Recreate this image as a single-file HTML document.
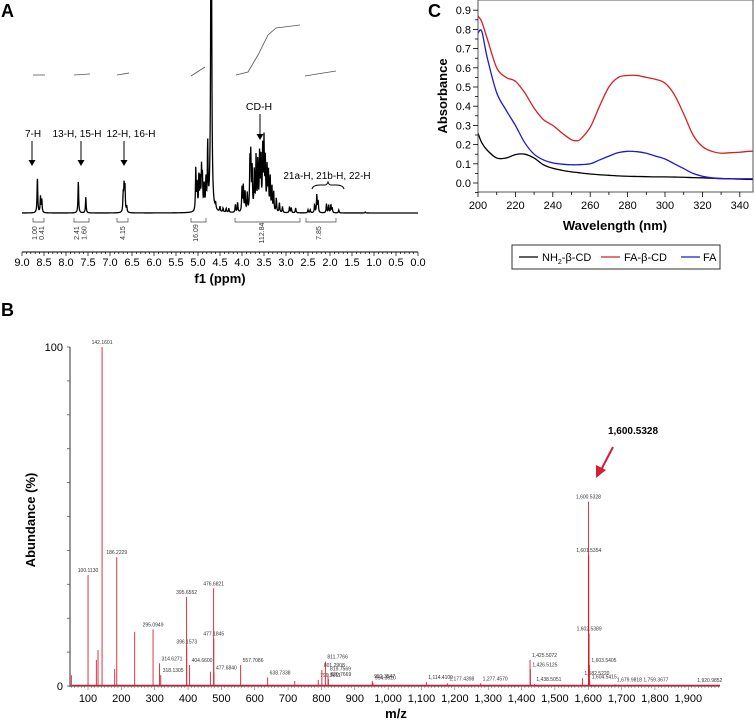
<!DOCTYPE html>
<html><head><meta charset="utf-8"><style>
body{margin:0;background:#fff;}
svg{display:block;font-family:"Liberation Sans",Arial,sans-serif;}
</style></head><body>
<svg id="fig" width="754" height="723" viewBox="0 0 754 723" xmlns="http://www.w3.org/2000/svg">
<g id="panelA"></g>
<g id="panelC"></g>
<g id="panelB"></g>
</svg>
<script>
// ---------- Panel A data (NMR) ----------
const nmrCenters = [8.65,8.58,8.55,7.72,7.55,6.70,6.68,6.66,6.62,5.05,5.02,4.98,4.95,4.92,4.90,4.86,4.82,4.78,4.70,4.60,4.50,4.43,4.36,4.30,4.15,4.10,4.00,3.97,3.93,3.88,3.82,3.80,3.77,3.72,3.68,3.64,3.60,3.57,3.53,3.50,3.47,3.43,3.40,3.36,3.32,3.28,3.22,3.15,3.08,2.92,2.88,2.78,2.50,2.45,2.35,2.30,2.27,2.08,2.03,1.98,1.95,1.80,1.20];
const nmrHeights = [36,16,13,32,16,18,26,25,6,43,28,36,30,40,33,25,30,65,400,6,5,4,4,4,8,10,24,26,20,18,48,53,44,40,55,50,58,52,62,68,50,44,40,35,25,20,14,10,6,6,5,5,3,3,8,18,12,9,8,8,5,3,1];
const nmrTicks = [9.0,8.5,8.0,7.5,7.0,6.5,6.0,5.5,5.0,4.5,4.0,3.5,3.0,2.5,2.0,1.5,1.0,0.5,0.0];
const integValues = ["1.00","0.41","2.41","1.60","4.15","16.09","112.84","7.85"];
const integPos = [8.70,8.55,7.75,7.58,6.70,5.05,3.55,2.25];

// ---------- Panel C data (UV) ----------
const uvWave = [200,202,205,210,215,220,225,230,235,240,245,250,253,255,260,265,270,275,280,285,290,295,300,305,310,315,320,325,330,335,340,345,350];
const uvFACD = [0.87,0.84,0.75,0.60,0.55,0.53,0.47,0.39,0.33,0.30,0.26,0.225,0.22,0.23,0.29,0.40,0.50,0.55,0.56,0.56,0.55,0.54,0.52,0.46,0.36,0.25,0.19,0.165,0.155,0.158,0.16,0.165,0.165];
const uvFA = [0.78,0.79,0.65,0.47,0.38,0.30,0.21,0.15,0.12,0.105,0.098,0.095,0.095,0.096,0.10,0.12,0.14,0.158,0.165,0.163,0.155,0.14,0.125,0.10,0.075,0.05,0.035,0.027,0.023,0.022,0.022,0.022,0.022];
const uvNH2 = [0.26,0.21,0.17,0.13,0.13,0.148,0.15,0.13,0.095,0.077,0.066,0.058,0.055,0.052,0.047,0.043,0.040,0.037,0.035,0.034,0.033,0.032,0.032,0.031,0.030,0.028,0.027,0.025,0.023,0.022,0.020,0.019,0.018];
const uvXTicks = [200,220,240,260,280,300,320,340];
const uvYTicks = [0.0,0.1,0.2,0.3,0.4,0.5,0.6,0.7,0.8,0.9];

// ---------- Panel B data (MS) ----------
const msMz = [50,100.113,125,130,142.1601,186.2229,180,240,295.0949,314.6271,318.1305,395.6552,396.1573,404.6600,467,476.6821,477.1845,477.6840,557.7086,638.7338,720,790.3011,801.2908,811.7766,819.7569,820.7669,952.3547,954.3620,1114.4109,1177.4398,1277.4570,1425.5072,1426.5125,1438.5051,1582.5220,1600.5328,1601.5354,1602.5389,1603.5405,1604.5415,1679.9818,1759.3677,1920.9852];
const msAbund = [3.2,32.7,7.7,10.6,100,38,5,16,16.7,6.7,3.2,26.3,11.6,6.2,4.2,28.8,14,4,6.2,2.5,1.5,1.8,4.7,7.2,3.7,2,1.5,1,1.2,0.8,0.8,7.7,4.9,0.6,2.3,54.4,38.6,15.5,6.2,1.3,0.5,0.4,0.3];
const msLabels = ["","100.1130","","","142.1601","186.2229","","","295.0949","314.6271","318.1305","395.6552","396.1573","404.6600","","476.6821","477.1845","477.6840","557.7086","638.7338","","790.3011","801.2908","811.7766","819.7569","820.7669","952.3547","954.3620","1,114.4109","1,177.4398","1,277.4570","1,425.5072","1,426.5125","1,438.5051","1,582.5220","1,600.5328","1,601.5354","1,602.5389","1,603.5405","1,604.5415","1,679.9818","1,759.3677","1,920.9852"];
const msTicks = [100,200,300,400,500,600,700,800,900,1000,1100,1200,1300,1400,1500,1600,1700,1800,1900];

const NS="http://www.w3.org/2000/svg";
function mk(parent,tag,attrs,text){const e=document.createElementNS(NS,tag);for(const k in attrs)e.setAttribute(k,attrs[k]);if(text!==undefined)e.textContent=text;parent.appendChild(e);return e;}

// ===== Panel A =====
const A=document.getElementById('panelA');
const ax=p=>22+(9-p)*44;
const base=213;
let t=mk(A,'text',{x:1,y:17,'font-size':18,'font-weight':'bold'},'A');

const cpA=mk(A,'clipPath',{id:'clipA'});
mk(cpA,'rect',{x:0,y:0,width:420,height:240});
let d='';
for(let px=22;px<=418;px+=0.25){const p=9-(px-22)/44;let s=0;for(let i=0;i<nmrCenters.length;i++){const w=nmrCenters[i]===4.70?0.012:0.009;const z=(p-nmrCenters[i])/w;s+=nmrHeights[i]/(1+z*z);}d+=(d?'L':'M')+px.toFixed(2)+','+(base-s).toFixed(2);}
const spec=mk(A,'path',{d:d,fill:'none',stroke:'#000','stroke-width':1.3,'clip-path':'url(#clipA)'});

const integ=[[33,75,45,75],[74,75,90,74],[117,75,129,73],[191,76,205,67],[236,75,248,72,258,55,268,35,276,28,300,25],[305,76,317,74,336,71]];
integ.forEach(a=>{let s='M'+a[0]+','+a[1];for(let i=2;i<a.length;i+=2)s+='L'+a[i]+','+a[i+1];const e=mk(A,'path',{d:s,fill:'none',stroke:'#555','stroke-width':0.8});});
[[33,44],[74,89],[117,128],[191,206],[235,300],[306,336]].forEach(b=>{const e=mk(A,'path',{d:`M${b[0]},218V222H${b[1]}V218`,fill:'none',stroke:'#444','stroke-width':0.7});});
integValues.forEach((v,i)=>{const x=ax(integPos[i]);const e=mk(A,'text',{x:0,y:0,'font-size':7,'text-anchor':'middle',transform:`translate(${x+2},233) rotate(-90)`,fill:'#333'},v);});
const axl=mk(A,'line',{x1:22,y1:252,x2:418,y2:252,stroke:'#000','stroke-width':1});
for(let p=9;p>=-0.001;p-=0.1){const x=ax(p);const maj=Math.abs(p*2-Math.round(p*2))<0.01;mk(A,'line',{x1:x,y1:252,x2:x,y2:maj?256:254,stroke:'#000','stroke-width':0.7});}
nmrTicks.forEach(p=>{const e=mk(A,'text',{x:ax(p),y:266,'font-size':11,'text-anchor':'middle'},p.toFixed(1));});
t=mk(A,'text',{x:220,y:283,'font-size':13,'font-weight':'bold','text-anchor':'middle'},'f1 (ppm)');
function arrow(x,y1,y2){mk(A,'line',{x1:x,y1:y1,x2:x,y2:y2-5,stroke:'#000','stroke-width':1});mk(A,'path',{d:`M${x-3.5},${y2-6}L${x+3.5},${y2-6}L${x},${y2}Z`,fill:'#000'});}
[['7-H',33,32],['13-H, 15-H',77,81],['12-H, 16-H',131,124]].forEach(a=>{const e=mk(A,'text',{x:a[1],y:137,'font-size':10,'text-anchor':'middle'},a[0]);arrow(a[2],141,166);});
t=mk(A,'text',{x:259,y:110,'font-size':10.5,'text-anchor':'middle'},'CD-H');
arrow(260,114,140);
t=mk(A,'text',{x:327,y:179,'font-size':10,'text-anchor':'middle'},'21a-H, 21b-H, 22-H');
mk(A,'path',{d:'M312,189Q313,185 320,185L325,185Q327,185 328,182Q329,185 331,185L336,185Q343,185 344,189',fill:'none',stroke:'#000','stroke-width':1});

// ===== Panel C =====
const C=document.getElementById('panelC');
const cx=w=>478+(w-200)*1.87;
const cy=v=>183-v*192;
t=mk(C,'text',{x:428,y:17,'font-size':18,'font-weight':'bold'},'C');
const cpC=mk(C,'clipPath',{id:'clipC'});
mk(cpC,'rect',{x:478,y:0,width:275,height:192});
function smooth(xs,ys){const P=xs.map((w,i)=>[cx(w),cy(ys[i])]);let s='M'+P[0][0]+','+P[0][1];for(let i=0;i<P.length-1;i++){const p0=P[Math.max(0,i-1)],p1=P[i],p2=P[i+1],p3=P[Math.min(P.length-1,i+2)];s+=`C${p1[0]+(p2[0]-p0[0])/6},${p1[1]+(p2[1]-p0[1])/6} ${p2[0]-(p3[0]-p1[0])/6},${p2[1]-(p3[1]-p1[1])/6} ${p2[0]},${p2[1]}`;}return s;}
[[uvNH2,'#000','line-nh2-beta-cd'],[uvFACD,'#d62020','line-fa-beta-cd'],[uvFA,'#1a1ad0','line-fa']].forEach(s=>{const e=mk(C,'path',{d:smooth(uvWave,s[0]),fill:'none',stroke:s[1],'stroke-width':1.3,'clip-path':'url(#clipC)'});});
const box=mk(C,'rect',{x:478,y:0,width:275,height:192,fill:'none',stroke:'#555','stroke-width':1});
for(let w=200;w<=350;w+=10){mk(C,'line',{x1:cx(w),y1:192,x2:cx(w),y2:w%20===0?197:195,stroke:'#000','stroke-width':0.8});}
uvXTicks.forEach(w=>{const e=mk(C,'text',{x:cx(w),y:209,'font-size':11,'text-anchor':'middle'},w);});
for(let v=-0.05;v<=0.95;v+=0.05){mk(C,'line',{x1:478,y1:cy(v),x2:Math.abs(v*10-Math.round(v*10))<0.01?473:475,y2:cy(v),stroke:'#000','stroke-width':0.8});}
uvYTicks.forEach(v=>{const e=mk(C,'text',{x:471,y:cy(v)+4,'font-size':11,'text-anchor':'end'},v.toFixed(1));});
t=mk(C,'text',{x:615,y:230,'font-size':13,'font-weight':'bold','text-anchor':'middle'},'Wavelength (nm)');
t=mk(C,'text',{x:0,y:0,'font-size':13,'font-weight':'bold','text-anchor':'middle',transform:'translate(447,96) rotate(-90)'},'Absorbance');
const lg=mk(C,'g',{});
mk(lg,'rect',{x:512,y:245,width:208,height:24,fill:'#fff',stroke:'#333','stroke-width':1});
mk(lg,'line',{x1:519,y1:257,x2:538,y2:257,stroke:'#000','stroke-width':1.3});
t=mk(lg,'text',{x:542,y:261,'font-size':11});
t.innerHTML='NH<tspan font-size="7" dy="3">2</tspan><tspan dy="-3">-β-CD</tspan>';
mk(lg,'line',{x1:601,y1:257,x2:620,y2:257,stroke:'#d62020','stroke-width':1.3});
t=mk(lg,'text',{x:624,y:261,'font-size':11},'FA-β-CD');
mk(lg,'line',{x1:681,y1:257,x2:700,y2:257,stroke:'#1a1ad0','stroke-width':1.3});
t=mk(lg,'text',{x:703,y:261,'font-size':11},'FA');

// ===== Panel B =====
const B=document.getElementById('panelB');
const bx=m=>88+(m-100)*0.3335;
const by=v=>686-v*3.39;
t=mk(B,'text',{x:1,y:316,'font-size':18,'font-weight':'bold'},'B');
mk(B,'line',{x1:70,y1:347,x2:70,y2:687,stroke:'#555','stroke-width':1.2});
for(let i=0;i<=10;i++)mk(B,'line',{x1:67,y1:by(i*10),x2:70,y2:by(i*10),stroke:'#555','stroke-width':0.8});
t=mk(B,'text',{x:63,y:351,'font-size':11,'text-anchor':'end'},'100');
t=mk(B,'text',{x:63,y:690,'font-size':11,'text-anchor':'end'},'0');
t=mk(B,'text',{x:0,y:0,'font-size':13,'font-weight':'bold','text-anchor':'middle',transform:'translate(35,520) rotate(-90)'},'Abundance (%)');
mk(B,'line',{x1:70,y1:686,x2:720,y2:686,stroke:'#555','stroke-width':1.2});
for(let m=50;m<=1990;m+=10){mk(B,'line',{x1:bx(m),y1:686,x2:bx(m),y2:m%100===0?690:688,stroke:'#555','stroke-width':0.5});}
msTicks.forEach(m=>{const e=mk(B,'text',{x:bx(m),y:702,'font-size':11,'text-anchor':'middle'},m>=1000?m.toLocaleString('en-US'):m);});
t=mk(B,'text',{x:396,y:718,'font-size':13,'font-weight':'bold','text-anchor':'middle'},'m/z');
mk(B,'path',{d:'M72,685.5H720',stroke:'#c02030','stroke-width':1.5});
msMz.forEach((m,i)=>{const x=bx(m);const y=by(msAbund[i]);const e=mk(B,'line',{x1:x,y1:686,x2:x,y2:y,stroke:'#d42030','stroke-width':0.9});
 if(msLabels[i]){const l=mk(B,'text',{x:x+(msAbund[i]>9?0:2),y:y-3,'font-size':5,'text-anchor':msAbund[i]>9?'middle':'start',fill:'#333'},msLabels[i]);}});
t=mk(B,'text',{x:633,y:434,'font-size':10,'font-weight':'bold','text-anchor':'middle'},'1,600.5328');
const ar=mk(B,'g',{});
mk(ar,'line',{x1:613,y1:447,x2:601,y2:470,stroke:'#d42030','stroke-width':2});
mk(ar,'path',{d:'M596,478L596,465L606,470Z',fill:'#d42030'});
</script>
</body></html>
